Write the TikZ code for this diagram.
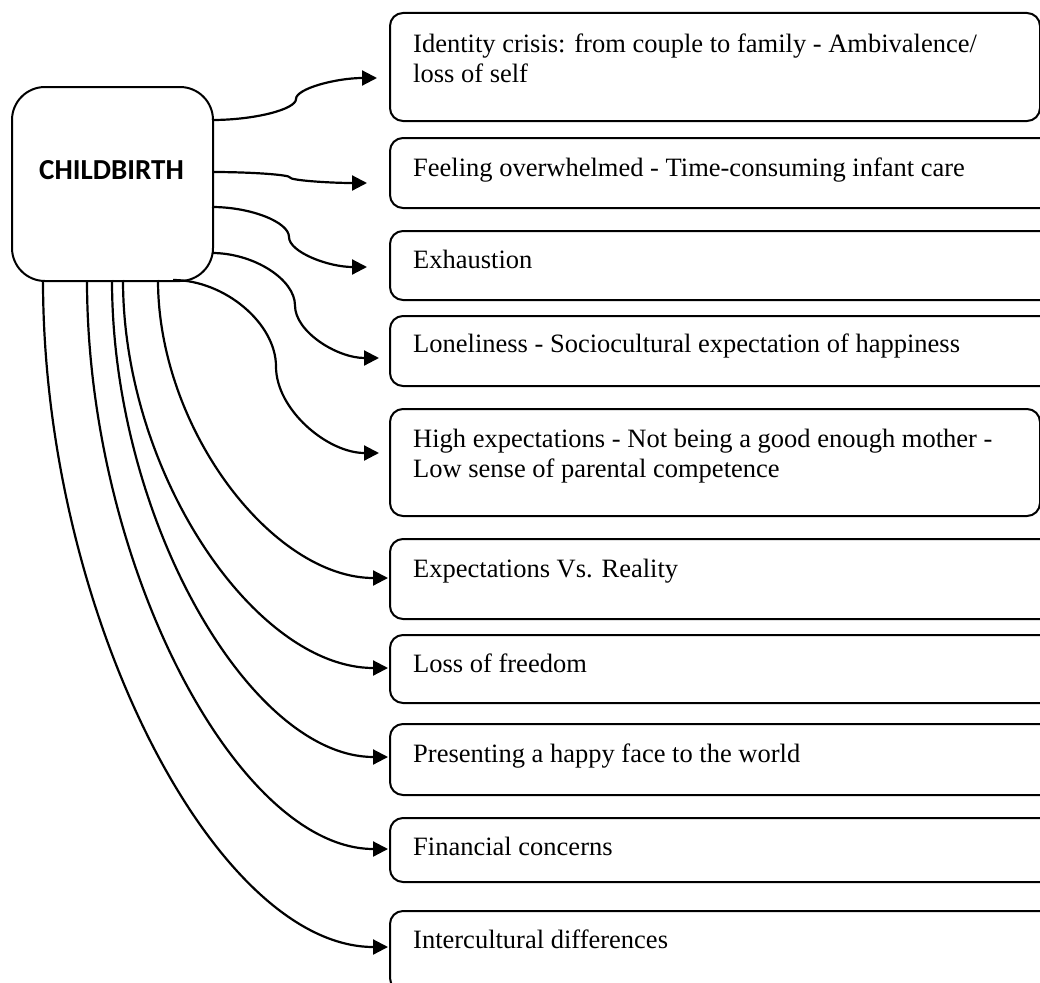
\documentclass[tikz,border=0pt]{standalone}
\usepackage{fontspec}
\setmainfont{Liberation Serif}
\newfontfamily\carlito{Carlito}
\usetikzlibrary{arrows.meta}
\tikzset{
  mainbox/.style={draw, line width=2pt, rounded corners=33pt, anchor=north west, inner sep=0pt, minimum width=201pt, minimum height=194pt},
  item/.style={draw, line width=2pt, rounded corners=13pt, anchor=north west, inner sep=0pt},
  lbl/.style={anchor=base west, inner sep=0pt, font=\fontsize{26.5}{30.5}\selectfont, align=left},
  conn/.style={line width=2.2pt, -{Triangle[length=15pt,width=15pt]}},
}
\begin{document}
\begin{tikzpicture}[x=1pt,y=-1pt]
\useasboundingbox (0,0) rectangle (1040,982);
% central box
\node[mainbox] (cb) at (11,86) {};
\node[anchor=base, inner sep=0pt, font=\fontsize{29}{34}\selectfont\carlito\bfseries] (cbl) at (111.5,179) {CHILDBIRTH};
% item boxes
\node[item, minimum width=650pt, minimum height=108pt] (b1) at (389,12) {};
\node[item, minimum width=700pt, minimum height=70pt] (b2) at (389,137) {};
\node[item, minimum width=700pt, minimum height=69pt] (b3) at (389,230) {};
\node[item, minimum width=700pt, minimum height=70pt] (b4) at (389,315) {};
\node[item, minimum width=650pt, minimum height=107pt] (b5) at (389,408) {};
\node[item, minimum width=700pt, minimum height=80pt] (b6) at (389,538) {};
\node[item, minimum width=700pt, minimum height=68pt] (b7) at (389,634) {};
\node[item, minimum width=700pt, minimum height=71pt] (b8) at (389,723) {};
\node[item, minimum width=700pt, minimum height=64pt] (b9) at (389,817) {};
\node[item, minimum width=700pt, minimum height=80pt] (b10) at (389,910) {};
% labels (multi-line labels anchored at the baseline of their last line)
\node[lbl] (l1) at (413,82.5) {Identity crisis: from couple to family - Ambivalence/\\loss of self};
\node[lbl] (l2) at (413,176) {Feeling overwhelmed - Time-consuming infant care};
\node[lbl] (l3) at (413,268) {Exhaustion};
\node[lbl] (l4) at (413,352) {Loneliness - Sociocultural expectation of happiness};
\node[lbl] (l5) at (413,477.5) {High expectations - Not being a good enough mother -\\Low sense of parental competence};
\node[lbl] (l6) at (413,577) {Expectations Vs. Reality};
\node[lbl] (l7) at (413,672) {Loss of freedom};
\node[lbl] (l8) at (413,762) {Presenting a happy face to the world};
\node[lbl] (l9) at (413,855) {Financial concerns};
\node[lbl] (l10) at (413,948) {Intercultural differences};
% connector end points
\coordinate (s1) at (212,120); \coordinate (e1) at (377,78);
\coordinate (s2) at (212,172); \coordinate (e2) at (367,183);
\coordinate (s3) at (212,207); \coordinate (e3) at (367,267);
\coordinate (s4) at (212,253); \coordinate (e4) at (379,358);
\coordinate (s5) at (173,280); \coordinate (e5) at (379,453);
\coordinate (s6) at (158,280); \coordinate (e6) at (388,578);
\coordinate (s7) at (123,280); \coordinate (e7) at (388,668);
\coordinate (s8) at (112,280); \coordinate (e8) at (388,757);
\coordinate (s9) at (87,280);  \coordinate (e9) at (388,849);
\coordinate (s10) at (43,280); \coordinate (e10) at (388,947);
% S-shaped connectors
\draw[conn] (s1) .. controls (254,120) and (296,109.5) .. (296,99) .. controls (296,88.5) and (336.5,78) .. (e1);
\draw[conn] (s2) .. controls (251,172) and (290,174.75) .. (290,177.5) .. controls (290,180.25) and (328.5,183) .. (e2);
\draw[conn] (s3) .. controls (250.5,207) and (289,222) .. (289,237) .. controls (289,252) and (328,267) .. (e3);
\draw[conn] (s4) .. controls (253.5,253) and (295,279.25) .. (295,305.5) .. controls (295,331.75) and (337,358) .. (e4);
\draw[conn] (s5) .. controls (224.5,280) and (276,323.25) .. (276,366.5) .. controls (276,409.75) and (327.5,453) .. (e5);
% quarter-curve connectors
\draw[conn] (s6) .. controls (158,429) and (273,578) .. (e6);
\draw[conn] (s7) .. controls (123,474) and (255.5,668) .. (e7);
\draw[conn] (s8) .. controls (112,518.5) and (250,757) .. (e8);
\draw[conn] (s9) .. controls (87,564.5) and (237.5,849) .. (e9);
\draw[conn] (s10) .. controls (43,613.5) and (215.5,947) .. (e10);
\end{tikzpicture}
\end{document}
